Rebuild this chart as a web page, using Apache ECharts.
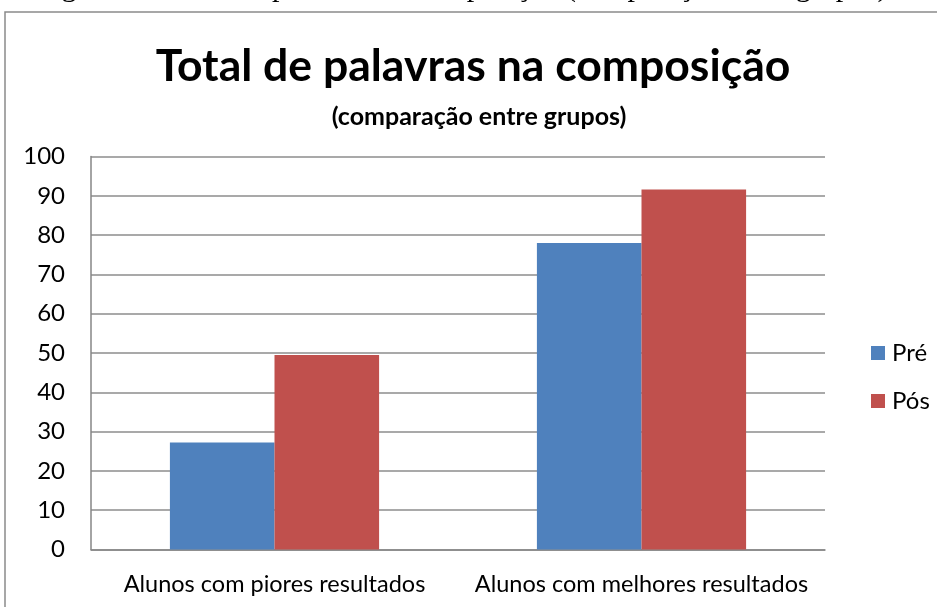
<!DOCTYPE html>
<html>
<head>
<meta charset="utf-8">
<script src="https://cdn.jsdelivr.net/npm/echarts@6/dist/echarts.min.js"></script>
<style>
  html, body { margin: 0; padding: 0; background: #fff; }
  #main { width: 937px; height: 607px; }
</style>
</head>
<body>
<div id="main"></div>
<script>
// dados
const categorias = ['Alunos com piores resultados', 'Alunos com melhores resultados'];
const pre = [27.2, 78.0];
const pos = [49.5, 91.6];
const seriesNames = ['Pré', 'Pós'];

const chart = echarts.init(document.getElementById('main'), null, { renderer: 'canvas' });

const fontFam = 'Lato, "Open Sans", sans-serif';

const option = {
    animation: false,
    backgroundColor: '#fff',
    textStyle: { fontFamily: fontFam },
    title: [
        {
            text: 'Total de palavras na composição',
            left: 468, top: 39, textAlign: 'center',
            textStyle: { fontSize: 44.5, fontWeight: 'bold', color: '#000', fontFamily: fontFam }
        },
        {
            text: '(comparação entre grupos)',
            left: 474, top: 99, textAlign: 'center',
            textStyle: { fontSize: 25, fontWeight: 'bold', color: '#000', fontFamily: fontFam }
        }
    ],
    graphic: [
        {
            type: 'rect',
            shape: { x: 5, y: 12, width: 1000, height: 700 },
            style: { fill: 'none', stroke: '#8a8a8a', lineWidth: 1.5 },
            silent: true
        },
        {
            // legenda da figura, cortada no topo da imagem
            type: 'text',
            x: 462, y: 3,
            style: {
                text: 'Figura 3 – Total de palavras na composição (comparação entre grupos)',
                font: '30px "Liberation Serif", serif',
                fill: '#000',
                align: 'center',
                verticalAlign: 'bottom'
            },
            silent: true
        }
    ],
    legend: {
        orient: 'vertical',
        left: 866, top: 336,
        itemWidth: 14, itemHeight: 14,
        itemGap: 24,
        icon: 'rect',
        data: seriesNames,
        textStyle: { fontSize: 24, color: '#000', fontFamily: fontFam, padding: [0, 0, 0, 2] }
    },
    grid: { left: 91, right: 112, top: 156.5, bottom: 57.5, containLabel: false },
    xAxis: {
        type: 'category',
        data: categorias,
        axisLine: { lineStyle: { color: '#868686', width: 1.5 } },
        axisTick: { show: false },
        axisLabel: { fontSize: 23.5, color: '#000', margin: 23, fontFamily: fontFam, interval: 0 }
    },
    yAxis: {
        type: 'value',
        min: 0, max: 100, interval: 10,
        axisLine: { show: true, lineStyle: { color: '#868686', width: 1.5 } },
        axisTick: { show: false },
        axisLabel: { fontSize: 24, color: '#000', margin: 26, fontFamily: fontFam },
        splitLine: { lineStyle: { color: '#8c8c8c', width: 1.5 } }
    },
    series: [
        {
            name: seriesNames[0], type: 'bar', data: pre,
            barGap: '0%', barCategoryGap: '43%',
            itemStyle: { color: '#4F81BD' }
        },
        {
            name: seriesNames[1], type: 'bar', data: pos,
            barGap: '0%', barCategoryGap: '43%',
            itemStyle: { color: '#C0504D' }
        }
    ]
};

chart.setOption(option);
</script>
</body>
</html>
